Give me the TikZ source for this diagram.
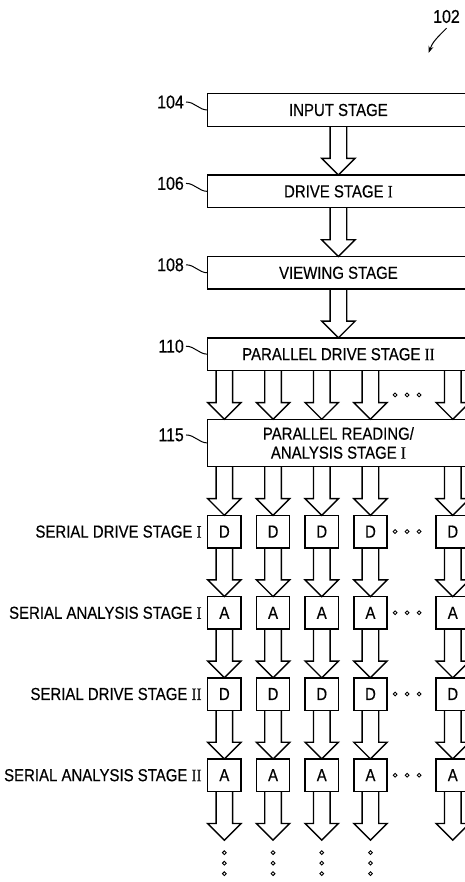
\documentclass[tikz,border=0pt]{standalone}
\usepackage{fontspec}
\setmainfont{Liberation Sans}[FakeStretch=0.86,FakeBold=0.4]
\newfontfamily\romfont{Liberation Serif}[FakeStretch=0.86,FakeBold=0.4]
\usetikzlibrary{positioning,calc,arrows.meta}
\newcommand{\RN}[1]{{\romfont #1}}
% hollow block arrow along a column, from a start point down to an end point
\newcommand{\fat}[3]{\draw[fat] let \p1=(#1|-#2), \p2=(#1|-#3) in
  ({\x1-8.3pt},\y1) -- ({\x1-8.3pt},{\y2+16.7pt}) -- ({\x1-16.7pt},{\y2+16.7pt}) -- (\x1,\y2)
  -- ({\x1+16.7pt},{\y2+16.7pt}) -- ({\x1+8.3pt},{\y2+16.7pt}) -- ({\x1+8.3pt},\y1);}

\begin{document}
\begin{tikzpicture}[x=1pt,y=1pt,>=Stealth,node distance=48.7pt and 15.4pt]
\tikzstyle{B}=[draw,line width=1.5pt,minimum width=261.4pt,minimum height=32.7pt,inner sep=0pt,outer sep=0pt,align=center,font=\fontsize{17.4}{19}\selectfont]
\tikzstyle{S}=[draw,line width=1.5pt,minimum width=33.3pt,minimum height=32.5pt,inner sep=0pt,outer sep=0pt,font=\fontsize{17.4}{19}\selectfont]
\tikzstyle{R}=[inner sep=0pt,font=\fontsize{17.4}{19}\selectfont]
\tikzstyle{N}=[inner sep=2pt,font=\fontsize{18.5}{21}\selectfont]
\tikzstyle{fat}=[line width=1.4pt,line join=miter]
\tikzstyle{lead}=[line width=1pt]
\tikzstyle{dot}=[line width=0.9pt]
\useasboundingbox (0,0) rectangle (465,-882);
\clip (0,0) rectangle (465,-882);

\node[B] (st1) at (338.4,-110) {INPUT STAGE};
\node[B,below=of st1] (st2) {DRIVE STAGE \RN{I}};
\node[B,below=of st2] (st3) {VIEWING STAGE};
\node[B,below=of st3] (st4) {PARALLEL DRIVE STAGE \RN{II}};
\node[B,below=of st4,minimum height=47.4pt] (st5) {PARALLEL READING/\\ANALYSIS STAGE \RN{I}};

\node[S,below=of st5.south west,anchor=north west] (d1) {D};
\node[S,right=of d1] (d2) {D};
\node[S,right=of d2] (d3) {D};
\node[S,right=of d3] (d4) {D};
\node[S,right=49pt of d4] (d5) {D};
\foreach \i in {1,...,5} {
  \node[S,below=of d\i] (a\i) {A};
  \node[S,below=of a\i] (dd\i) {D};
  \node[S,below=of dd\i] (aa\i) {A};
}
\coordinate (tail) at ([yshift=-48.7pt]aa1.south);

\node[R,left=6pt of d1] (l1) {SERIAL DRIVE STAGE \RN{I}};
\node[R,left=6pt of a1] (l2) {SERIAL ANALYSIS STAGE \RN{I}};
\node[R,left=6pt of dd1] (l3) {SERIAL DRIVE STAGE \RN{II}};
\node[R,left=6pt of aa1] (l4) {SERIAL ANALYSIS STAGE \RN{II}};

% reference numerals
\foreach \n/\s in {104/st1,106/st2,108/st3,110/st4,115/st5} {
  \node[N,left=21.7pt of \s.west,yshift=8pt] (n\n) {\n};
  \draw[lead] (n\n.east) to[out=0,in=180] (\s.west);
}
\node[N] (n102) at (446.5,-16.5) {102};
\coordinate (t102) at (428.5,-53);
\draw[lead,-{Stealth[length=7pt,width=5pt]}] ([yshift=-3pt]n102.south) to[out=-135,in=70] (t102);

% block arrows
\fat{st1}{st1.south}{st2.north}
\fat{st1}{st2.south}{st3.north}
\fat{st1}{st3.south}{st4.north}
\foreach \i in {1,...,5} {
  \fat{d\i}{st4.south}{st5.north}
  \fat{d\i}{st5.south}{d\i.north}
  \fat{d\i}{d\i.south}{a\i.north}
  \fat{d\i}{a\i.south}{dd\i.north}
  \fat{d\i}{dd\i.south}{aa\i.north}
  \fat{d\i}{aa\i.south}{tail}
}

% ellipsis dots
\foreach \r in {d4,a4,dd4,aa4}
  \foreach \k in {8,20,32}
    \draw[dot] ([xshift=\k pt]\r.east) circle (1.9pt);
\foreach \k in {8,20,32}
  \draw[dot] ($(d4.east|-st4.south)!0.5!(d4.east|-st5.north)+(\k,0)$) circle (1.9pt);
\foreach \i in {1,...,4}
  \foreach \k in {12.5,23,33.5}
    \draw[dot] ($(d\i|-tail)+(0,-\k)$) circle (1.9pt);
\end{tikzpicture}
\end{document}
